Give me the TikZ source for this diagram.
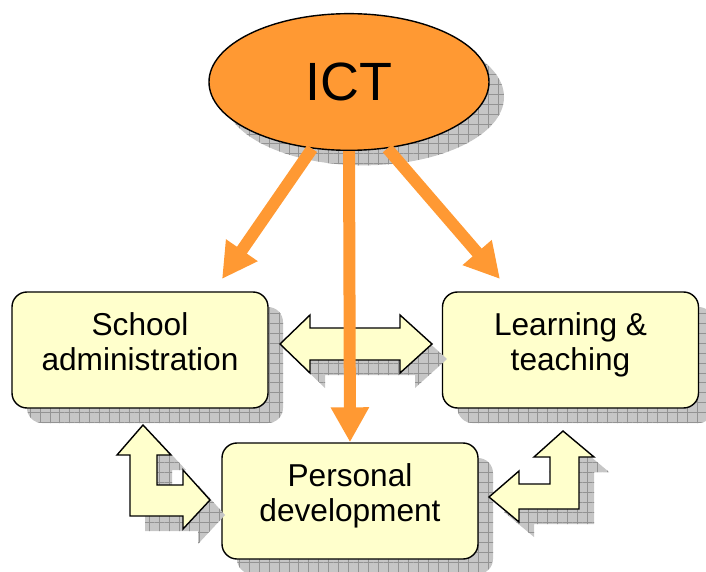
\documentclass[tikz,border=0pt]{standalone}
\usepackage{fontspec}
\setmainfont{Liberation Sans}
\usetikzlibrary{arrows.meta,positioning,shapes.geometric,shadows,patterns.meta}

\definecolor{ictorange}{RGB}{255,153,51}
\definecolor{paleyellow}{RGB}{255,255,204}

\begin{document}
\begin{tikzpicture}[
        x=0.03cm, y=-0.03cm,
        font=\fontsize{27}{29.5}\selectfont,
        grid shadow/.style={
            general shadow={shadow xshift=0.45cm, shadow yshift=-0.45cm, fill=gray!45},
            general shadow={shadow xshift=0.45cm, shadow yshift=-0.45cm,
                pattern={Lines[distance=8.5pt, line width=0.5pt]}, pattern color=gray!85},
            general shadow={shadow xshift=0.45cm, shadow yshift=-0.45cm,
                pattern={Lines[angle=90, distance=8.5pt, line width=0.5pt]}, pattern color=gray!85}
        },
        box/.style={
            draw, line width=1.2pt, rounded corners=0.45cm, fill=paleyellow,
            align=center, minimum width=7.68cm, minimum height=3.48cm,
            text depth=0.5cm, grid shadow
        },
        oval/.style={
            draw, ellipse, line width=1.2pt, fill=ictorange, inner sep=0pt,
            minimum width=8.4cm, minimum height=4.1cm,
            font=\fontsize{46}{50}\selectfont, grid shadow
        },
        blockarrow/.style={
            draw, fill=paleyellow, line width=1.2pt, line join=miter, grid shadow
        },
        ictarrow/.style={
            draw=ictorange, line width=0.36cm,
            -{Triangle[length=1.05cm, width=1.08cm]}
        }
        ]

        \useasboundingbox (0,0) rectangle (706,572);

        % --- Top: ICT ---
        \node[oval] (ict) at (349,82) {ICT};

        % --- The three areas ---
        \node[box] (admin) at (140,350) {School\\administration};
        \node[box] (learning) at (570.5,350) {Learning \&\\teaching};
        \node[box] (personal) at (350,501) {Personal\\development};

        % --- Block arrows between the areas ---
        \draw[blockarrow] (280,344) -- (310,315) -- (310,328) -- (400,328)
            -- (400,315) -- (432,344) -- (400,373) -- (400,360) -- (310,360)
            -- (310,373) -- cycle;
        \draw[blockarrow] (143,425) -- (171,455) -- (157,455) -- (157,485)
            -- (183,485) -- (183,470) -- (210,500) -- (183,529) -- (183,516)
            -- (130,516) -- (130,455) -- (117,455) -- cycle;
        \draw[blockarrow] (563,431) -- (594,457) -- (579,457) -- (579,509)
            -- (519,509) -- (519,522) -- (489,497) -- (519,471) -- (519,484)
            -- (550,484) -- (550,457) -- (534,457) -- cycle;

        % --- Arrows out of ICT ---
        \coordinate (admin tip) at (222,279);
        \coordinate (learning tip) at (500,279);
        \draw[ictarrow] (ict.241) -- (admin tip);
        \draw[ictarrow] (ict.south) -- (personal.north);
        \draw[ictarrow] (ict.300) -- (learning tip);

    \end{tikzpicture}
\end{document}
